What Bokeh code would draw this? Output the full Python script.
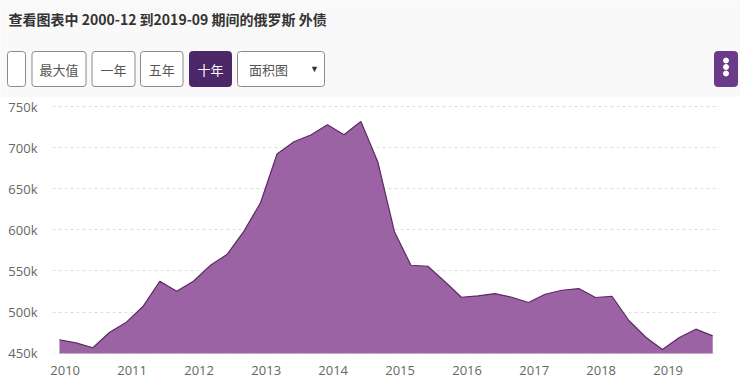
import pandas as pd
from bokeh.plotting import figure
from bokeh.models import (Range1d, FixedTicker, DatetimeTickFormatter,
                          PrintfTickFormatter, ColumnDataSource)
from bokeh.core.properties import value
from bokeh.embed import file_html
from bokeh.resources import INLINE

# ---------------- data ----------------
title_text = "查看图表中 2000-12 到2019-09 期间的俄罗斯 外债"
button_labels = ["", "最大值", "一年", "五年", "十年", "面积图"]
selected_button = "十年"

dates = pd.date_range("2009-12-01", "2019-09-01", freq="3MS")
debt_k = [466.3, 462.6, 456.6, 475.5, 487.7, 506.7, 537.5, 525.3, 537.5, 556.5,
          569.9, 598.2, 633.0, 692.2, 707.1, 715.3, 727.8, 715.6, 731.8, 682.8,
          597.8, 556.9, 555.7, 537.1, 518.0, 519.7, 522.5, 518.0, 511.6, 521.7,
          526.5, 528.6, 517.7, 519.2, 489.7, 469.4, 454.5, 468.7, 479.2, 471.1]
y_ticks = [450, 500, 550, 600, 650, 700, 750]
x_years = list(range(2010, 2020))

PAGE_BG = "#f9f9f9"
FILL = "#9b63a3"
LINE = "#5b2b63"
SEL = "#4b2768"
CJK = value("Noto Sans CJK SC")

# ---------------- header ----------------
h = figure(width=740, height=97, x_range=Range1d(0, 740), y_range=Range1d(97, 0),
           toolbar_location=None, output_backend="svg", min_border=0,
           x_axis_location=None, y_axis_location=None)
h.grid.visible = False
h.outline_line_color = None
h.background_fill_color = PAGE_BG
h.border_fill_color = PAGE_BG

h.text(x=[8], y=[18], text=[title_text], text_font=CJK, text_font_size="14px",
       text_font_style="bold", text_color="#333333", text_baseline="middle",
       text_align="left")

b_left = [7, 31.5, 91.5, 140, 189, 237]
b_right = [25, 85.5, 134.5, 182.5, 231, 324]
b_fill = [SEL if b == selected_button else "white" for b in button_labels]
b_line = [SEL if b == selected_button else "#8a8a8a" for b in button_labels]
b_text_col = ["white" if b == selected_button else "#555555" for b in button_labels]
b_cx = [(l + r) / 2 for l, r in zip(b_left, b_right)]
b_cx[-1] = 268
bsrc = ColumnDataSource(dict(left=b_left, right=b_right, fill=b_fill, line=b_line,
                             label=button_labels, cx=b_cx, tcol=b_text_col))
h.quad(left="left", right="right", top=51, bottom=86, fill_color="fill",
       line_color="line", line_width=1, border_radius=3, source=bsrc)
h.text(x="cx", y=68.5, text="label", text_color="tcol", text_font=CJK,
       text_font_size="13px", text_align="center", text_baseline="middle", source=bsrc)
h.text(x=[314], y=[68], text=["▼"], text_color="#333333", text_font_size="9px",
       text_align="center", text_baseline="middle")

h.quad(left=[714], right=[737], top=[51], bottom=[86], fill_color="#6b3a88",
       line_color="#6b3a88", border_radius=3)
h.scatter(x=[725.5, 725.5, 725.5], y=[60, 66.5, 73], size=5, color="white")

# ---------------- chart ----------------
src = ColumnDataSource(dict(date=dates, debt=debt_k))
p = figure(width=740, height=281, x_axis_type="datetime",
           x_range=Range1d(pd.Timestamp("2009-10-24"), pd.Timestamp("2019-10-08")),
           y_range=Range1d(449.6, 757.3),
           toolbar_location=None, output_backend="svg",
           min_border_left=52, min_border_right=21, min_border_top=3,
           min_border_bottom=25)
p.background_fill_color = "white"
p.border_fill_color = "white"
p.outline_line_color = None

p.varea(x="date", y1=0, y2="debt", source=src, fill_color=FILL)
p.line(x="date", y="debt", source=src, line_color=LINE, line_width=1.2)

p.xgrid.visible = False
p.ygrid.grid_line_color = "#dddddd"
p.ygrid.grid_line_dash = "3 3"
p.ygrid.ticker = FixedTicker(ticks=y_ticks)

p.yaxis.ticker = FixedTicker(ticks=y_ticks)
p.yaxis.formatter = PrintfTickFormatter(format="%dk")
p.xaxis.ticker = FixedTicker(ticks=[pd.Timestamp(f"{y}-01-01").timestamp() * 1000
                                    for y in x_years])
p.xaxis.formatter = DatetimeTickFormatter(years="%Y", months="%Y", days="%Y",
                                          hours="%Y", minutes="%Y")
for ax in (p.xaxis[0], p.yaxis[0]):
    ax.axis_line_color = None
    ax.major_tick_line_color = None
    ax.minor_tick_line_color = None
    ax.major_label_text_font = "Open Sans"
    ax.major_label_text_font_size = "13px"
    ax.major_label_text_color = "#666666"
p.yaxis.major_label_standoff = 9
p.xaxis.major_label_standoff = 6

open("out.html", "w").write(file_html([h, p], INLINE))
